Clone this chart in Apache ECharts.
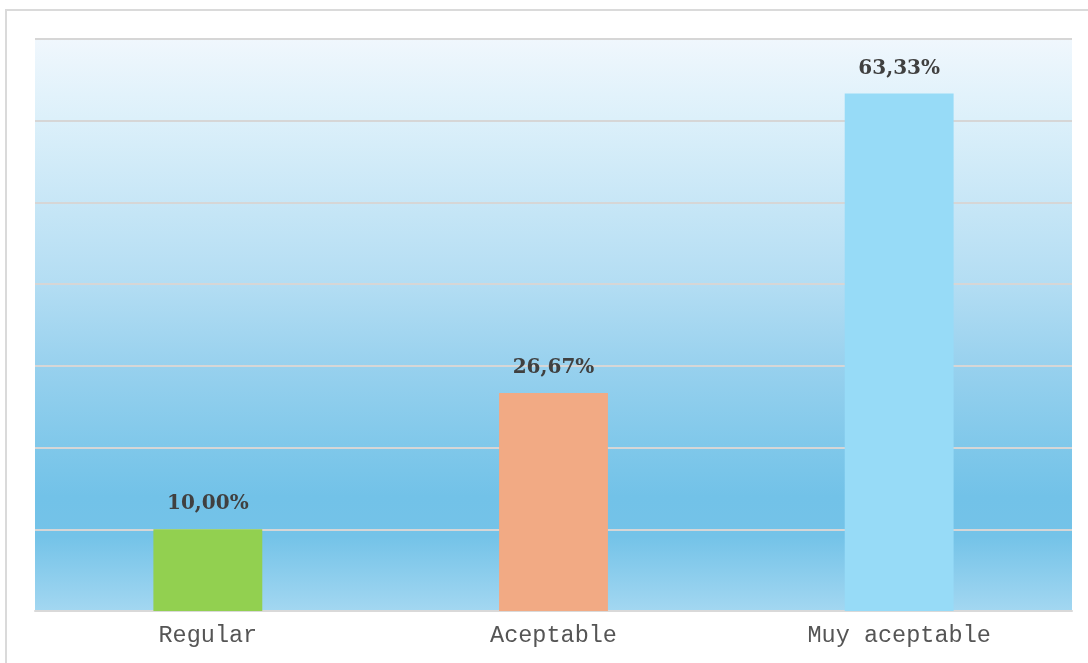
<!DOCTYPE html>
<html>
<head>
<meta charset="utf-8">
<script src="https://cdn.jsdelivr.net/npm/echarts@6/dist/echarts.min.js"></script>
<style>
html,body{margin:0;padding:0;background:#fff;}
#chart{width:1088px;height:663px;}
</style>
</head>
<body>
<div id="chart"></div>
<script>
var categories = ['Regular', 'Aceptable', 'Muy aceptable'];
var values = [10.00, 26.67, 63.33];
var barColors = ['#92d050', '#f2aa84', '#97dbf7'];
var yTicks = [0, 10, 20, 30, 40, 50, 60, 70];

var chart = echarts.init(document.getElementById('chart'));
chart.setOption({
  animation: false,
  graphic: [{
    type: 'rect',
    shape: {x: 6, y: 10, width: 1200, height: 800},
    style: {fill: 'none', stroke: '#dadada', lineWidth: 2},
    silent: true, z: -10
  }],
  grid: {
    left: 35, right: 16, top: 39, bottom: 52,
    show: true, borderWidth: 0,
    backgroundColor: {
      type: 'linear', x: 0, y: 0, x2: 0, y2: 1,
      colorStops: [
        {offset: 0, color: '#f0f7fd'},
        {offset: 0.14, color: '#dcf0fa'},
        {offset: 0.43, color: '#b3ddf3'},
        {offset: 0.57, color: '#98d1ee'},
        {offset: 0.71, color: '#80c8ea'},
        {offset: 0.80, color: '#72c2e8'},
        {offset: 0.87, color: '#74c3e8'},
        {offset: 1, color: '#a3d7f1'}
      ]
    }
  },
  xAxis: {
    type: 'category',
    data: categories,
    axisLine: {lineStyle: {color: '#d9d9d9', width: 2}},
    axisTick: {show: false},
    axisLabel: {
      color: '#555555',
      fontFamily: 'Liberation Mono',
      fontSize: 23.5,
      margin: 13
    }
  },
  yAxis: {
    type: 'value',
    min: yTicks[0], max: yTicks[yTicks.length - 1], interval: 10,
    axisLabel: {show: false},
    axisLine: {show: false},
    axisTick: {show: false},
    splitLine: {lineStyle: {color: '#d6d6d6', width: 2}}
  },
  series: [{
    type: 'bar',
    data: values.map(function (v, i) { return {value: v, itemStyle: {color: barColors[i]}}; }),
    barWidth: '31.5%',
    label: {
      show: true,
      position: 'top',
      distance: 15,
      color: '#404040',
      fontFamily: 'DejaVu Serif',
      fontWeight: 'bold',
      fontSize: 20,
      formatter: function (p) { return p.value.toFixed(2).replace('.', ',') + '%'; }
    }
  }]
});
</script>
</body>
</html>
